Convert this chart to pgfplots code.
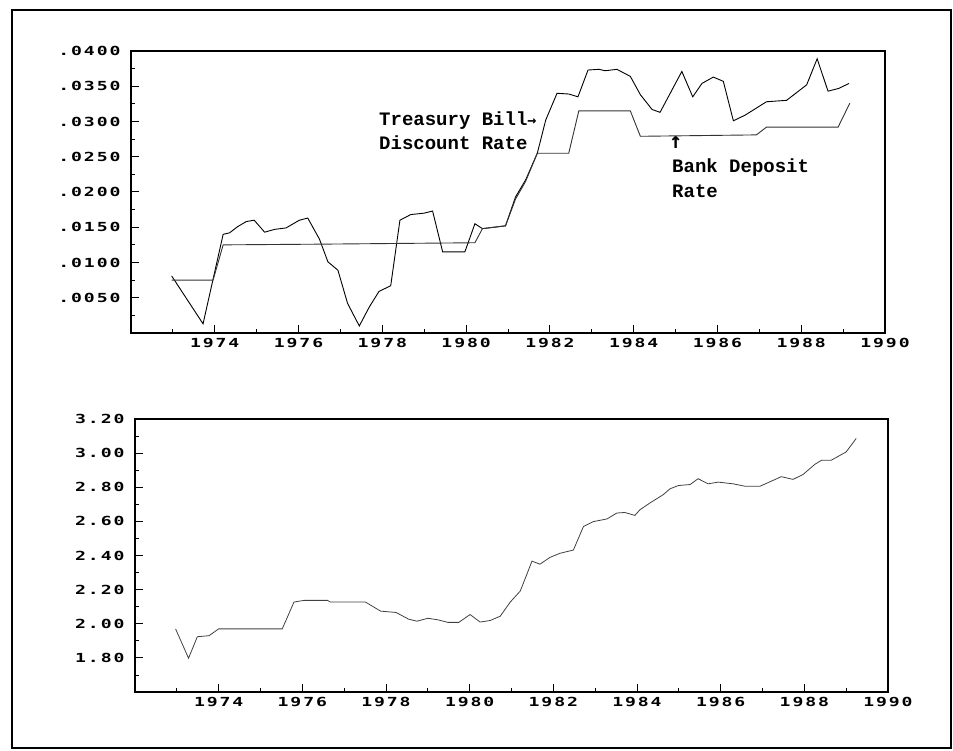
\documentclass[border=0pt]{standalone}
\usepackage{fontspec}
\usepackage{pgfplots}
\pgfplotsset{compat=1.18}
\setmainfont{DejaVu Sans Mono}
\newfontfamily\tickfont[FakeStretch=1.45,LetterSpace=15]{DejaVu Sans Mono Bold}
\newfontfamily\annfont{Liberation Mono Bold}
\newfontfamily\arrfont{DejaVu Sans Mono Bold}

\pgfplotstableread{
x y
1972.97 .0081
1973.72 .0013
1974.20 .0140
1974.35 .0142
1974.55 .0151
1974.75 .0158
1974.94 .0160
1975.19 .0143
1975.43 .0147
1975.70 .0149
1976.02 .0160
1976.22 .0163
1976.50 .0133
1976.70 .0101
1976.94 .0089
1977.17 .0042
1977.45 .0010
1977.69 .0037
1977.92 .0059
1978.20 .0067
1978.42 .0160
1978.68 .0168
1979.00 .0170
1979.20 .0173
1979.44 .0115
1979.68 .0115
1979.97 .0115
1980.21 .0155
1980.39 .0148
1980.94 .0152
1981.18 .0193
1981.42 .0217
1981.70 .0255
1981.90 .0302
1982.17 .0340
1982.45 .0339
1982.67 .0335
1982.91 .0373
1983.17 .0374
1983.32 .0372
1983.60 .0374
1983.92 .0364
1984.16 .0338
1984.44 .0317
1984.63 .0313
1985.15 .0371
1985.41 .0335
1985.63 .0354
1985.90 .0363
1986.14 .0357
1986.38 .0301
1986.66 .0309
1987.17 .0328
1987.65 .0330
1988.13 .0352
1988.38 .0389
1988.64 .0343
1988.90 .0347
1989.14 .0354
}\tbill

\pgfplotstableread{
x y
1972.97 .0075
1973.96 .0075
1974.20 .0125
1976.50 .0126
1980.21 .0128
1980.39 .0148
1980.94 .0152
1981.18 .0190
1981.42 .0215
1981.70 .0255
1982.45 .0255
1982.69 .0315
1983.92 .0315
1984.16 .0279
1986.93 .0281
1987.17 .0292
1988.88 .0292
1989.16 .0326
}\bank

\pgfplotstableread{
x y
1972.97 1.970
1973.28 1.798
1973.49 1.924
1973.77 1.930
1974.00 1.970
1975.52 1.970
1975.80 2.127
1976.04 2.137
1976.60 2.137
1976.67 2.127
1977.51 2.127
1977.87 2.074
1978.24 2.066
1978.54 2.027
1978.74 2.015
1979.00 2.032
1979.24 2.023
1979.48 2.008
1979.74 2.008
1980.01 2.054
1980.25 2.010
1980.49 2.019
1980.73 2.044
1980.97 2.127
1981.21 2.192
1981.49 2.367
1981.68 2.349
1981.92 2.389
1982.16 2.413
1982.48 2.432
1982.72 2.570
1982.96 2.599
1983.28 2.614
1983.52 2.649
1983.71 2.652
1983.95 2.635
1984.07 2.668
1984.31 2.708
1984.63 2.757
1984.79 2.791
1984.99 2.810
1985.27 2.816
1985.46 2.850
1985.70 2.820
1985.94 2.830
1986.30 2.820
1986.58 2.806
1986.94 2.806
1987.45 2.862
1987.73 2.846
1987.97 2.875
1988.25 2.934
1988.41 2.958
1988.64 2.958
1989.00 3.007
1989.24 3.086
}\ratio

\pgfplotsset{
  myaxis/.style={
    scale only axis,
    anchor=south west,
    xmin=1972, xmax=1990,
    xtick={1974,1976,...,1990},
    xticklabels={1974,1976,1978,1980,1982,1984,1986,1988,1990},
    minor xtick={1973,1975,...,1989},
    tick align=inside,
    major tick length=8pt,
    minor tick length=4pt,
    xtick pos=lower, ytick pos=left,
    axis line style={line width=1.3pt},
    every tick/.style={black, line width=1pt},
    every minor tick/.style={black, line width=0.8pt},
    tick label style={font=\tickfont\fontsize{12.5}{12.5}\selectfont},
    xticklabel style={yshift=-2pt},
    yticklabel style={xshift=-7pt},
    scaled ticks=false,
    clip=false,
  }
}

\begin{document}
\begin{tikzpicture}[x=1pt,y=1pt]
\useasboundingbox (0,0) rectangle (953,751);
\draw[line width=2.2pt] (12,3) rectangle (951,741);

\begin{axis}[myaxis,
  at={(131pt,418pt)}, width=754pt, height=282pt,
  ymin=0, ymax=0.04,
  ytick={0.005,0.01,...,0.0401},
  yticklabels={.0050,.0100,.0150,.0200,.0250,.0300,.0350,.0400},
  minor ytick={0.0025,0.0075,...,0.038},
]
\addplot[black, line width=0.9pt] table {\tbill};
\addplot[black!80, line width=0.9pt] table {\bank};
\end{axis}

\begin{axis}[myaxis,
  at={(135pt,59pt)}, width=753pt, height=273pt,
  ymin=1.6, ymax=3.2,
  ytick={1.8,2.0,...,3.21},
  yticklabels={1.80,2.00,2.20,2.40,2.60,2.80,3.00,3.20},
  minor ytick={1.7,1.9,...,3.15},
]
\addplot[black!75, line width=0.8pt] table {\ratio};
\end{axis}

\node[anchor=base west, inner sep=0pt, font=\annfont\fontsize{19}{19}\selectfont] at (379,625) {Treasury Bill{\arrfont\fontsize{15}{15}\selectfont →}};
\node[anchor=base west, inner sep=0pt, font=\annfont\fontsize{19}{19}\selectfont] at (379,601) {Discount Rate};
\node[anchor=base west, inner sep=0pt, font=\arrfont\fontsize{22}{22}\selectfont] at (669,602) {↑};
\node[anchor=base west, inner sep=0pt, font=\annfont\fontsize{19}{19}\selectfont] at (672,578) {Bank Deposit};
\node[anchor=base west, inner sep=0pt, font=\annfont\fontsize{19}{19}\selectfont] at (672,553) {Rate};
\end{tikzpicture}
\end{document}
